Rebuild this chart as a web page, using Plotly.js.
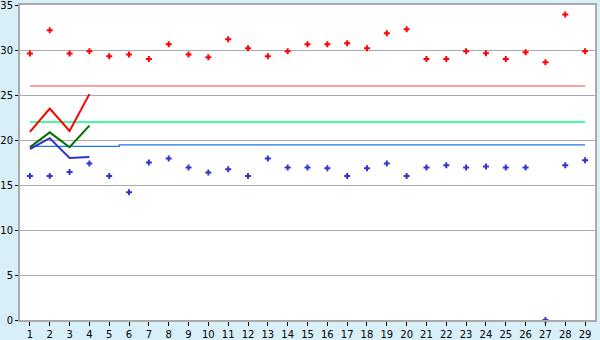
<!DOCTYPE html>
<html><head><meta charset="utf-8">
<script src="https://cdn.plot.ly/plotly-3.0.1.min.js"></script>
<style>html,body{margin:0;padding:0;background:#d9eff7}</style>
</head><body><div id="chart" style="width:600px;height:340px"></div>
<script>
const days = Array.from({length: 29}, (_, i) => i + 1);
const upperPts = [29.6, 32.2, 29.6, 29.85, 29.3, 29.5, 29.0, 30.65, 29.5, 29.2, 31.2, 30.2, 29.3, 29.85, 30.65, 30.65, 30.75, 30.2, 31.85, 32.3, 29.0, 29.0, 29.85, 29.65, 29.0, 29.75, 28.65, 33.95, 29.85];
const lowerPts = [16.0, 16.0, 16.45, 17.4, 16.0, 14.2, 17.5, 17.95, 16.95, 16.4, 16.75, 16.0, 17.95, 16.95, 16.95, 16.85, 16.0, 16.85, 17.4, 16.0, 16.95, 17.2, 16.95, 17.05, 16.95, 16.95, 0, 17.2, 17.75];
const shortX = [1, 2, 3, 4];
const redLine = [20.9, 23.5, 21.0, 25.1];
const greenLine = [19.2, 20.85, 19.2, 21.6];
const blueLine = [19.0, 20.2, 18.0, 18.1];
const levelX = [1, 29];
const redLevel = [26.0, 26.0];
const greenLevel = [22.0, 22.0];
const blueLevelX = [1, 5.5, 5.5, 29];
const blueLevel = [19.3, 19.3, 19.45, 19.45];

const traces = [
  {x: levelX, y: redLevel, mode: 'lines', line: {color: '#ff8080', width: 1.3}},
  {x: levelX, y: greenLevel, mode: 'lines', line: {color: '#00ff80', width: 1.3}},
  {x: blueLevelX, y: blueLevel, mode: 'lines', line: {color: '#1f78e0', width: 1.3}},
  {x: shortX, y: redLine, mode: 'lines', line: {color: '#ff0000', width: 2}},
  {x: shortX, y: greenLine, mode: 'lines', line: {color: '#007000', width: 2}},
  {x: shortX, y: blueLine, mode: 'lines', line: {color: '#3333cc', width: 2}},
  {x: days, y: upperPts, mode: 'markers', marker: {color: '#ff0000', symbol: 'cross', size: 5}},
  {x: days, y: lowerPts, mode: 'markers', marker: {color: '#3333cc', symbol: 'cross', size: 5}, cliponaxis: false}
];

const layout = {
  width: 600, height: 340,
  margin: {l: 20, r: 5, t: 5, b: 20},
  paper_bgcolor: '#d9eff7', plot_bgcolor: '#ffffff',
  showlegend: false,
  font: {family: 'DejaVu Sans', size: 10, color: '#000'},
  xaxis: {
    range: [0.5, 29.5], tickmode: 'array', tickvals: days, ticktext: days.map(String),
    showgrid: false, zeroline: false, showline: true, linecolor: '#aaaaaa', linewidth: 2, mirror: true,
    ticks: 'outside', ticklen: 4, tickcolor: '#000', tickfont: {size: 10}, automargin: false,
    ticklabeloverflow: 'allow'
  },
  yaxis: {
    range: [0, 35], dtick: 5, showgrid: true, gridcolor: '#aaaaaa', gridwidth: 1,
    zeroline: false, showline: true, linecolor: '#aaaaaa', linewidth: 2, mirror: true,
    ticks: 'outside', ticklen: 3, tickcolor: '#000', tickfont: {size: 10}, automargin: false,
    ticklabeloverflow: 'allow'
  }
};
Plotly.newPlot('chart', traces, layout, {staticPlot: true, displayModeBar: false});
</script></body></html>
